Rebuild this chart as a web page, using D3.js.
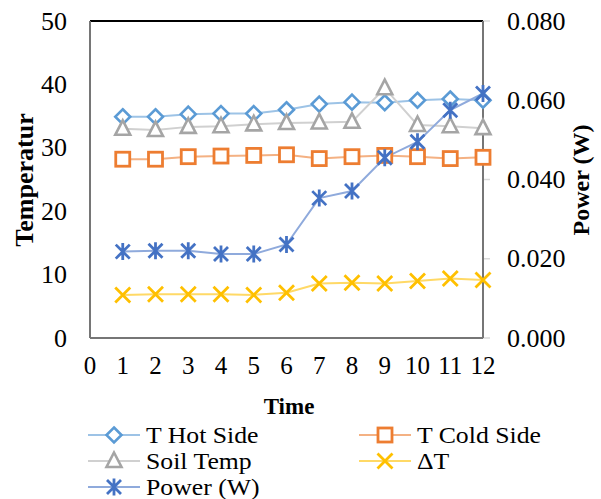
<!DOCTYPE html>
<html>
<head>
<meta charset="utf-8">
<script src="https://cdn.jsdelivr.net/npm/d3@7"></script>
<style>
  body { margin: 0; background: #fff; }
</style>
</head>
<body>
<div id="chart"></div>
<script>
// values
const time = [1, 2, 3, 4, 5, 6, 7, 8, 9, 10, 11, 12];
const tHot = [34.9, 34.9, 35.3, 35.4, 35.4, 36.0, 36.9, 37.2, 37.1, 37.5, 37.7, 37.5];
const tCold = [28.2, 28.2, 28.6, 28.7, 28.8, 28.9, 28.3, 28.6, 28.8, 28.6, 28.3, 28.5];
const soilTemp = [33.0, 32.8, 33.3, 33.4, 33.7, 33.9, 34.0, 34.1, 39.4, 33.6, 33.4, 33.1];
const deltaT = [6.8, 6.9, 6.9, 6.9, 6.8, 7.15, 8.6, 8.7, 8.6, 9.0, 9.4, 9.15];
const power = [0.0218, 0.0220, 0.0220, 0.0212, 0.0212, 0.0236, 0.0353, 0.0371, 0.0455, 0.0495, 0.0575, 0.0617];

const xTicks = d3.range(0, 13);
const leftTicks = [0, 10, 20, 30, 40, 50];
const rightTicks = [0, 0.02, 0.04, 0.06, 0.08];

const W = 601, H = 499;
const m = {left: 90, right: 118, top: 21, bottom: 161};
const FONT = 'Liberation Serif';

const svg = d3.select('#chart').append('svg')
    .attr('width', W).attr('height', H);

const x = d3.scaleLinear().domain([0, 12]).range([m.left, W - m.right]);
const y = d3.scaleLinear().domain([0, 50]).range([H - m.bottom, m.top]);
const y2 = d3.scaleLinear().domain([0, 0.08]).range([H - m.bottom, m.top]);

// marker shapes
function marker(g, type, color) {
    if (type == 'diamond') {
        g.append('path').attr('d', 'M0,-7.5L7.5,0L0,7.5L-7.5,0Z')
            .attr('fill', '#fff').attr('stroke', color).attr('stroke-width', 2.6);
    } else if (type == 'square') {
        g.append('rect').attr('x', -7).attr('y', -7).attr('width', 14).attr('height', 14)
            .attr('fill', '#fff').attr('stroke', color).attr('stroke-width', 2.8);
    } else if (type == 'triangle') {
        g.append('path').attr('d', 'M0,-8.5L7.5,6L-7.5,6Z')
            .attr('fill', '#fff').attr('stroke', color).attr('stroke-width', 2.6);
    } else if (type == 'x') {
        g.append('path').attr('d', 'M-7.5,-7.5L7.5,7.5M-7.5,7.5L7.5,-7.5')
            .attr('stroke', color).attr('stroke-width', 2.8);
    } else if (type == 'star') {
        g.append('path').attr('d', 'M-7,-7L7,7M-7,7L7,-7M0,-8.5L0,8.5')
            .attr('stroke', color).attr('stroke-width', 2.8);
    }
}

const series = [
    {name: 'T Hot Side', values: tHot, scale: y, type: 'diamond', color: '#5B9BD5', line: '#9DC3E6'},
    {name: 'T Cold Side', values: tCold, scale: y, type: 'square', color: '#ED7D31', line: '#F4B183'},
    {name: 'Soil Temp', values: soilTemp, scale: y, type: 'triangle', color: '#A5A5A5', line: '#D0D0D0'},
    {name: '\u0394T', values: deltaT, scale: y, type: 'x', color: '#FFC000', line: '#FFD966'},
    {name: 'Power (W)', values: power, scale: y2, type: 'star', color: '#4472C4', line: '#8FAADC'}
];

// axes labels
svg.append('g').selectAll('text').data(leftTicks).join('text')
    .attr('font-family', FONT)
    .attr('x', m.left - 23).attr('y', d => y(d)).attr('dy', '0.33em')
    .attr('text-anchor', 'end').attr('font-size', 26).text(d => d);

svg.append('g').selectAll('text').data(rightTicks).join('text')
    .attr('font-family', FONT)
    .attr('x', W - m.right + 24).attr('y', d => y2(d)).attr('dy', '0.33em')
    .attr('text-anchor', 'start').attr('font-size', 26).text(d => d3.format('.3f')(d));

svg.append('g').selectAll('text').data(xTicks).join('text')
    .attr('font-family', FONT)
    .attr('x', d => x(d)).attr('y', H - m.bottom + 28).attr('dy', '0.33em')
    .attr('text-anchor', 'middle').attr('font-size', 25).text(d => d);

// right axis tick marks
svg.append('g').selectAll('line').data(rightTicks).join('line')
    .attr('x1', W - m.right).attr('x2', W - m.right + 7)
    .attr('y1', d => y2(d)).attr('y2', d => y2(d))
    .attr('stroke', '#d9d9d9').attr('stroke-width', 1.5);

// frame
const x0 = x(0), x1 = x(12), yb = y(0), yt = y(50);
svg.append('line').attr('x1', x0).attr('x2', x1).attr('y1', yt).attr('y2', yt)
    .attr('stroke', '#000').attr('stroke-width', 2);
svg.append('line').attr('x1', x0).attr('x2', x0).attr('y1', yt).attr('y2', yb)
    .attr('stroke', '#767676').attr('stroke-width', 2);
svg.append('line').attr('x1', x1).attr('x2', x1).attr('y1', yt).attr('y2', yb)
    .attr('stroke', '#767676').attr('stroke-width', 2);
svg.append('line').attr('x1', x0).attr('x2', x1).attr('y1', yb).attr('y2', yb)
    .attr('stroke', '#767676').attr('stroke-width', 2);

// titles
svg.append('text').attr('transform', `translate(33,180) rotate(-90)`)
    .attr('font-family', FONT)
    .attr('text-anchor', 'middle').attr('font-size', 26).attr('font-weight', 'bold')
    .text('Temperatur');
svg.append('text').attr('transform', `translate(589,180) rotate(-90)`)
    .attr('font-family', FONT)
    .attr('text-anchor', 'middle').attr('font-size', 24).attr('font-weight', 'bold')
    .text('Power (W)');
svg.append('text').attr('x', 289).attr('y', 414)
    .attr('font-family', FONT)
    .attr('text-anchor', 'middle').attr('font-size', 23).attr('font-weight', 'bold')
    .text('Time');

// series
series.forEach(s => {
    const line = d3.line().x((d, i) => x(time[i])).y(d => s.scale(d));
    svg.append('path').datum(s.values).attr('d', line)
        .attr('fill', 'none').attr('stroke', s.line).attr('stroke-width', 2);
});
series.forEach(s => {
    s.values.forEach((v, i) => {
        const g = svg.append('g').attr('transform', `translate(${x(time[i])},${s.scale(v)})`);
        marker(g, s.type, s.color);
    });
});

// legend (text a little stretched sideways, as in the picture)
const legendPos = [[88, 435], [359, 435], [88, 461], [359, 461], [88, 487]];
series.forEach((s, i) => {
    const [lx, ly] = legendPos[i];
    const g = svg.append('g').attr('transform', `translate(${lx},${ly})`);
    g.append('line').attr('x1', 0).attr('x2', 52).attr('y1', 0).attr('y2', 0)
        .attr('stroke', s.line).attr('stroke-width', 2);
    marker(g.append('g').attr('transform', 'translate(26,0)'), s.type, s.color);
    g.append('text').attr('transform', 'translate(58,0) scale(1.12,1)').attr('dy', '0.33em')
        .attr('font-family', FONT)
        .attr('font-size', 23).text(s.name);
});
</script>
</body>
</html>
